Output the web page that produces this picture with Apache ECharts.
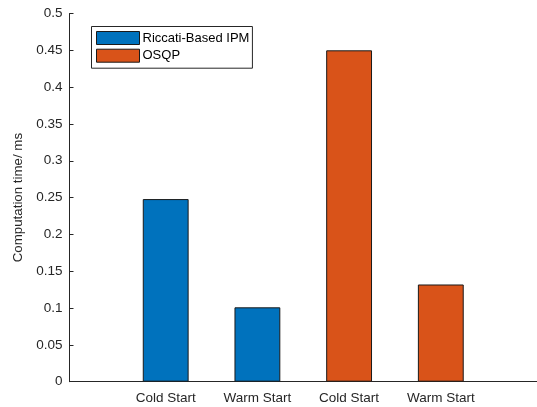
<!DOCTYPE html>
<html>
<head>
<meta charset="utf-8">
<script src="https://cdn.jsdelivr.net/npm/echarts@6/dist/echarts.min.js"></script>
<style>
html,body{margin:0;padding:0;background:#fff;}
#chart{width:537px;height:407px;}
</style>
</head>
<body>
<div id="chart"></div>
<script>
const categories = ["Cold Start", "Warm Start", "Cold Start", "Warm Start"];
const ipmValues = [0.248, 0.101, null, null];
const osqpValues = [null, null, 0.45, 0.132];
const seriesNames = ["Riccati-Based IPM", "OSQP"];
const yMin = 0, yMax = 0.5, yStep = 0.05;

const FONT = "'Liberation Sans', Arial, Helvetica, sans-serif";
const AX = '#262626';

const chart = echarts.init(document.getElementById('chart'));
chart.setOption({
  animation: false,
  backgroundColor: '#fff',
  textStyle: { fontFamily: FONT },
  grid: [
    { left: 119.85, width: 366.8, top: 13.5, bottom: 25.3 },
    { left: 69.5, right: -5, top: 13.5, bottom: 25.3 }
  ],
  legend: {
    orient: 'vertical',
    left: 91.5,
    top: 26.5,
    padding: [4.5, 3, 5.5, 4.5],
    itemWidth: 43,
    itemHeight: 13,
    itemGap: 3.7,
    borderColor: AX,
    borderWidth: 1,
    icon: 'rect',
    itemStyle: { borderWidth: 1, borderColor: '#1a1a1a' },
    textStyle: { fontFamily: FONT, fontSize: 13, color: '#000', padding: [0, 0, 0, -2] },
    data: seriesNames
  },
  xAxis: [
    {
      type: 'category', gridIndex: 0, data: categories, boundaryGap: true,
      axisLine: { show: false }, axisTick: { show: false },
      axisLabel: { fontFamily: FONT, fontSize: 13.5, color: AX, margin: 10 }
    },
    {
      type: 'value', gridIndex: 1, min: 0, max: 1,
      axisLine: { show: true, onZero: false, lineStyle: { color: AX, width: 1 } },
      axisTick: { show: false }, axisLabel: { show: false }, splitLine: { show: false }
    }
  ],
  yAxis: [
    {
      type: 'value', gridIndex: 0, min: yMin, max: yMax, interval: yStep,
      show: false
    },
    {
      type: 'value', gridIndex: 1, min: yMin, max: yMax, interval: yStep,
      name: 'Computation time/ ms', nameLocation: 'middle', nameGap: 34,
      nameTextStyle: { fontFamily: FONT, fontSize: 13.3, color: AX },
      axisLine: { show: true, lineStyle: { color: AX, width: 1 } },
      axisTick: { show: true, inside: true, length: 4, lineStyle: { color: AX } },
      axisLabel: { fontFamily: FONT, fontSize: 13.5, color: AX, margin: 7 },
      splitLine: { show: false }
    }
  ],
  series: [
    {
      name: seriesNames[0], type: 'bar', xAxisIndex: 0, yAxisIndex: 0,
      data: ipmValues, barWidth: '50%', barGap: '-100%',
      itemStyle: { color: '#0072BD', borderColor: '#1a1a1a', borderWidth: 1 }
    },
    {
      name: seriesNames[1], type: 'bar', xAxisIndex: 0, yAxisIndex: 0,
      data: osqpValues, barWidth: '50%', barGap: '-100%',
      itemStyle: { color: '#D95319', borderColor: '#1a1a1a', borderWidth: 1 }
    }
  ]
});
</script>
</body>
</html>
